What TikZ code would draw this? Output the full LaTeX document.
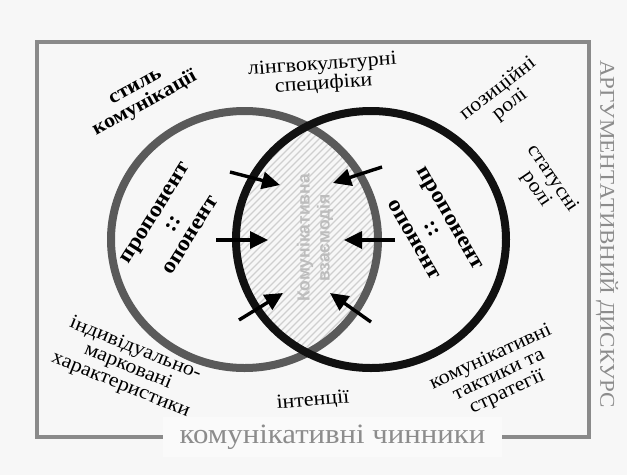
\documentclass[tikz,border=0pt]{standalone}
\usepackage{fontspec}
\setmainfont{Liberation Serif}[FakeStretch=1.1]
\newfontfamily\lsans{Liberation Sans}
\usetikzlibrary{arrows.meta}
\definecolor{bgc}{HTML}{F7F7F7}
\definecolor{boxc}{HTML}{FAFAFA}
\definecolor{framec}{HTML}{8A8A8A}
\definecolor{graycirc}{HTML}{5A5A5A}
\definecolor{blackcirc}{HTML}{111111}
\definecolor{hatchc}{HTML}{CFCFCF}
\definecolor{midtext}{HTML}{BDBDBD}
\definecolor{outtext}{HTML}{8C8C8C}
\tikzset{
  lbl/.style={align=center, inner sep=0pt, font=\fontsize{20}{19.5}\selectfont, text=black},
  blbl/.style={align=center, inner sep=0pt, font=\fontsize{20}{19.5}\selectfont\bfseries, text=black},
  pro/.style={align=center, inner sep=0pt, font=\fontsize{22}{21}\selectfont\bfseries, text=black},
  arr/.style={line width=3.4pt, black, -{Triangle[length=18pt,width=17pt]}},
  hatchline/.style={line width=1.1pt, hatchc},
}
\begin{document}
\begin{tikzpicture}[x=1pt,y=-1pt]
\fill[bgc] (0,0) rectangle (627,475);
\useasboundingbox (0,0) rectangle (627,475);
% frame
\draw[framec, line width=3.5pt] (37,42) rectangle (589,437);
% hatching of the intersection
\begin{scope}
  \clip (244.5,239.5) ellipse [x radius=133.5, y radius=128.5];
  \clip (371,239.5) ellipse [x radius=135, y radius=128.5];
  \foreach \i in {-260,-253,...,300} \draw[hatchline] (\i+150,400) -- (\i+450,100);
\end{scope}
% circles
\draw[graycirc, line width=8pt] (244.5,239.5) ellipse [x radius=133.5, y radius=128.5];
\draw[blackcirc, line width=8pt] (371,239.5) ellipse [x radius=135, y radius=128.5];
% centre text
\node[rotate=90, align=center, inner sep=0pt, text=midtext, font=\lsans\fontsize{17.5}{20}\selectfont\bfseries] (mid) at (315,238) {Комунікативна\\взаємодія};
% arrows
\coordinate (ul0) at (230,172); \coordinate (ul1) at (280,185);
\coordinate (ml0) at (216,240); \coordinate (ml1) at (268,240);
\coordinate (ll0) at (239,320); \coordinate (ll1) at (283,293);
\coordinate (ur0) at (382,167); \coordinate (ur1) at (333,183);
\coordinate (mr0) at (395,240); \coordinate (mr1) at (344,240);
\coordinate (lr0) at (371,322); \coordinate (lr1) at (330,293);
\draw[arr] (ul0) -- (ul1);
\draw[arr] (ml0) -- (ml1);
\draw[arr] (ll0) -- (ll1);
\draw[arr] (ur0) -- (ur1);
\draw[arr] (mr0) -- (mr1);
\draw[arr] (lr0) -- (lr1);
% participants
\node[pro, rotate=58] (left) at (173,224) {пропонент\\::\\опонент};
\node[pro, rotate=-60] (right) at (432,229) {пропонент\\::\\опонент};
% factors
\node[blbl, rotate=29] (style) at (141,97) {стиль\\комунікації};
\node[lbl, rotate=4] (ling) at (323,75) {лінгвокультурні\\специфіки};
\node[lbl, rotate=38] (pos) at (504,97) {позиційні\\ролі};
\node[lbl, rotate=-56] (stat) at (544,184) {статусні\\ролі};
\node[lbl, rotate=-22] (ind) at (128,367) {індивідуально-\\марковані\\характеристики};
\node[lbl, rotate=5] (int) at (313,401) {інтенції};
\node[lbl, rotate=25] (tact) at (499,375) {комунікативні\\тактики та\\стратегії};
% bottom and right titles
\node[fill=boxc, minimum width=339pt, minimum height=40pt, inner sep=0pt, text=outtext, font=\fontsize{28}{30}\selectfont] (chin) at (332.5,437) {комунікативні чинники};
\node[rotate=-90, inner sep=0pt, text=outtext, font=\fontsize{21}{22}\selectfont] (disc) at (607,234) {АРГУМЕНТАТИВНИЙ ДИСКУРС};
\end{tikzpicture}
\end{document}
